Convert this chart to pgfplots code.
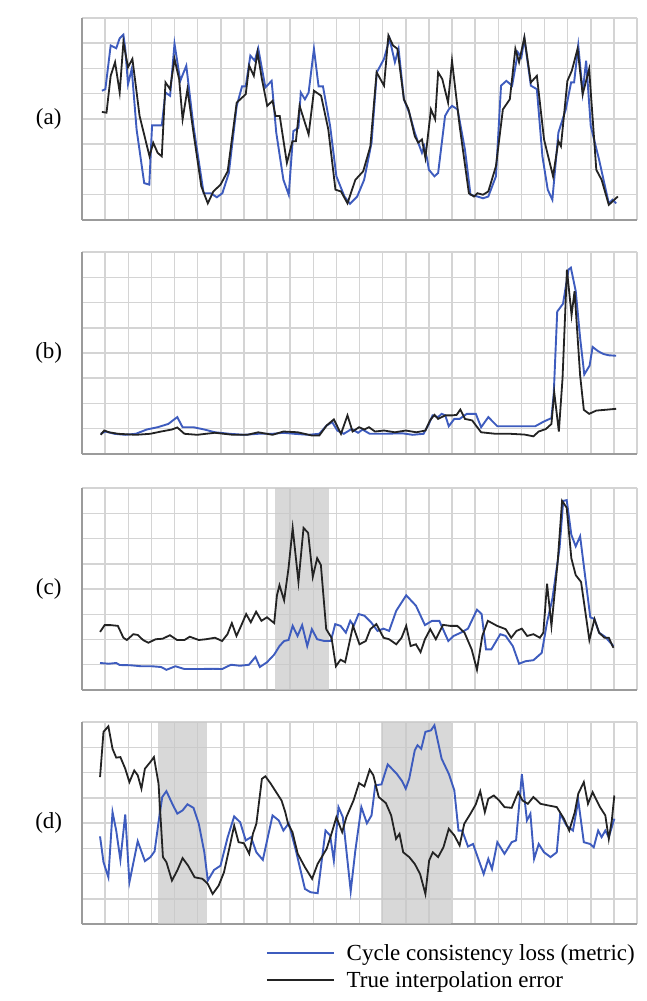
\documentclass[border=0pt]{standalone}
\usepackage{fontspec}
\setmainfont{Liberation Serif}
\usepackage{pgfplots}
\pgfplotsset{compat=1.18}

\definecolor{cblue}{RGB}{62,92,190}
\definecolor{cblack}{RGB}{35,35,35}
\definecolor{cgrid}{RGB}{212,212,212}
\definecolor{cframe}{RGB}{155,155,155}
\definecolor{cshade}{RGB}{200,200,200}

\pgfplotsset{
  panel/.style={
    width=555pt, height=202pt, scale only axis,
    xmin=0, xmax=24, ymin=0, ymax=8,
    xtick={0,...,24}, ytick={0,...,8},
    xticklabels={}, yticklabels={},
    major tick length=0pt,
    grid=major, grid style={draw=cgrid, line width=1.5pt},
    axis x line*=bottom, axis y line*=left,
    axis line style={-, draw=cframe, line width=1.8pt},
    clip mode=individual,
  },
  blueline/.style={cblue, line width=1.9pt},
  blackline/.style={cblack, line width=1.8pt},
  shade/.style={draw=none, fill=cshade, fill opacity=0.7, forget plot},
}
\newcommand{\lbl}{\fontsize{23}{26}\selectfont}

\begin{document}
\begin{tikzpicture}
\path[use as bounding box] (0pt,0pt) rectangle (646pt,-1001pt);

% (a)
\begin{axis}[panel, at={(82pt,-18pt)}, anchor=north west]
\addplot[blueline] coordinates {
(0.86,5.12)(1.01,5.18)(1.24,6.91)(1.48,6.8)(1.63,7.2)(1.79,7.34)(1.87,6.78)(1.99,5.38)(2.15,5.98)(2.36,3.59)(2.69,1.46)(2.91,1.4)(3.03,3.75)(3.45,3.75)(3.61,5.05)(3.81,4.92)(4.0,6.98)(4.25,5.51)(4.51,6.11)(4.82,3.72)(5.26,1.06)(5.57,1.06)(5.83,0.9)(6.07,1.06)(6.35,1.86)(6.69,4.52)(6.92,5.29)(7.08,5.29)(7.28,6.51)(7.47,6.31)(7.62,6.8)(7.93,5.25)(8.2,5.51)(8.4,3.46)(8.71,1.59)(8.94,1.0)(9.14,3.52)(9.36,3.65)(9.46,5.05)(9.64,4.78)(9.8,5.05)(10.03,6.78)(10.23,5.29)(10.42,5.29)(10.73,3.72)(11.0,1.73)(11.35,0.93)(11.59,0.64)(11.9,0.93)(12.2,1.59)(12.52,3.06)(12.75,5.85)(13.06,6.38)(13.3,7.18)(13.53,6.25)(13.69,6.78)(13.92,4.78)(14.15,4.25)(14.39,3.46)(14.54,3.06)(14.7,2.66)(14.8,2.92)(14.93,2.39)(15.0,1.99)(15.24,1.73)(15.4,1.86)(15.7,4.12)(15.86,4.38)(16.0,4.52)(16.24,4.38)(16.56,2.79)(16.8,1.0)(17.1,0.93)(17.34,0.86)(17.57,0.93)(17.9,1.73)(18.12,5.32)(18.35,5.51)(18.6,5.32)(18.85,6.64)(19.0,6.44)(19.13,7.18)(19.41,5.32)(19.67,5.18)(19.91,2.52)(20.14,1.2)(20.34,0.8)(20.6,3.46)(20.92,4.38)(21.15,5.45)(21.28,5.45)(21.46,6.91)(21.65,5.05)(21.8,6.31)(22.0,3.72)(22.36,2.39)(22.78,0.66)(22.94,0.8)(23.1,0.66)
};
\addplot[blackline] coordinates {
(0.86,4.28)(1.06,4.25)(1.24,5.71)(1.43,6.25)(1.63,5.05)(1.79,7.04)(1.99,6.05)(2.18,6.38)(2.49,4.12)(2.92,2.52)(3.08,3.06)(3.27,2.66)(3.45,2.52)(3.61,5.45)(3.81,5.18)(4.0,6.38)(4.2,5.58)(4.35,3.99)(4.56,5.18)(4.82,3.46)(5.16,1.33)(5.44,0.66)(5.68,1.13)(5.99,1.4)(6.3,1.93)(6.69,4.65)(7.08,4.98)(7.23,6.11)(7.43,5.71)(7.59,6.64)(7.78,5.58)(8.01,4.52)(8.24,4.72)(8.37,4.12)(8.55,4.12)(8.86,2.26)(9.1,3.12)(9.25,3.12)(9.41,4.52)(9.8,3.39)(10.03,5.12)(10.34,4.92)(10.65,3.59)(10.96,1.2)(11.2,1.13)(11.48,0.66)(11.82,1.59)(12.16,1.93)(12.47,2.92)(12.74,5.85)(13.06,5.32)(13.25,7.31)(13.45,6.91)(13.64,6.78)(13.92,4.78)(14.12,4.38)(14.39,3.32)(14.54,3.06)(14.7,3.19)(14.85,2.46)(15.09,4.38)(15.27,3.99)(15.4,5.85)(15.58,5.58)(15.83,4.65)(16.0,6.31)(16.33,3.72)(16.73,1.06)(16.95,0.93)(17.1,1.06)(17.34,1.0)(17.57,1.13)(17.9,2.13)(18.2,4.38)(18.5,4.78)(18.74,6.78)(18.9,6.25)(19.13,7.24)(19.41,5.45)(19.67,5.71)(19.98,3.19)(20.37,1.73)(20.6,3.12)(20.71,2.92)(20.99,5.51)(21.18,5.91)(21.43,6.78)(21.65,4.98)(21.93,5.98)(22.24,1.99)(22.47,1.59)(22.78,0.6)(23.17,0.93)
};
\node[font=\lbl] at (rel axis cs:-0.06,0.5) {(a)};
\end{axis}

% (b)
\begin{axis}[panel, at={(82pt,-252pt)}, anchor=north west]
\addplot[blueline] coordinates {
(0.81,0.8)(1.01,0.89)(1.4,0.8)(1.87,0.76)(2.33,0.8)(2.8,0.97)(3.27,1.06)(3.73,1.19)(4.12,1.46)(4.35,1.06)(4.82,1.06)(5.29,0.97)(5.75,0.86)(6.38,0.8)(7.0,0.76)(7.62,0.8)(8.24,0.8)(8.71,0.84)(9.18,0.8)(9.8,0.76)(10.26,0.8)(10.58,1.13)(10.82,1.26)(11.04,0.93)(11.32,0.8)(11.66,0.99)(11.94,0.84)(12.13,0.97)(12.44,0.8)(13.06,0.8)(13.84,0.82)(14.3,0.76)(14.77,0.8)(15.0,1.19)(15.16,1.53)(15.4,1.46)(15.55,1.59)(15.71,1.53)(15.86,1.1)(16.1,1.39)(16.33,1.39)(16.64,1.59)(17.03,1.59)(17.26,1.06)(17.57,1.46)(17.96,1.1)(18.51,1.1)(19.13,1.1)(19.6,1.1)(19.98,1.29)(20.3,1.42)(20.4,2.4)(20.55,5.64)(20.8,5.95)(21.04,7.3)(21.14,7.38)(21.35,6.45)(21.54,4.6)(21.72,3.15)(21.95,3.5)(22.08,4.24)(22.32,4.07)(22.55,3.96)(22.78,3.91)(23.1,3.89)
};
\addplot[blackline] coordinates {
(0.81,0.76)(0.96,0.93)(1.17,0.86)(1.56,0.8)(2.33,0.76)(2.95,0.8)(3.42,0.89)(3.89,0.97)(4.12,1.05)(4.43,0.8)(4.98,0.76)(5.75,0.84)(6.53,0.76)(7.15,0.76)(7.62,0.86)(8.24,0.76)(8.71,0.89)(9.33,0.86)(9.95,0.73)(10.26,0.73)(10.58,1.13)(10.89,1.37)(11.2,0.8)(11.48,1.53)(11.7,0.89)(11.98,1.06)(12.21,0.97)(12.41,1.06)(12.67,0.89)(13.06,0.93)(13.53,0.86)(14.0,0.93)(14.46,0.86)(14.85,0.93)(15.05,1.33)(15.24,1.55)(15.4,1.39)(15.71,1.53)(16.02,1.53)(16.2,1.55)(16.36,1.76)(16.56,1.39)(16.87,1.33)(17.26,0.86)(17.88,0.8)(18.51,0.8)(19.13,0.77)(19.52,0.7)(19.75,0.89)(20.06,0.99)(20.3,1.19)(20.42,2.45)(20.62,0.89)(20.78,3.0)(20.97,7.3)(21.17,5.5)(21.3,6.45)(21.54,3.12)(21.7,1.75)(21.93,1.59)(22.24,1.72)(22.63,1.75)(23.1,1.79)
};
\node[font=\lbl] at (rel axis cs:-0.06,0.5) {(b)};
\end{axis}

% (c)
\begin{axis}[panel, at={(82pt,-488pt)}, anchor=north west]
\addplot[shade] coordinates {(8.36,0)(10.68,0)(10.68,8)(8.36,8)} --cycle;
\addplot[blueline] coordinates {
(0.78,1.07)(1.16,1.04)(1.48,1.07)(1.63,0.99)(2.1,0.98)(2.56,0.94)(3.03,0.94)(3.42,0.91)(3.65,0.8)(4.04,0.94)(4.43,0.83)(5.05,0.83)(5.67,0.84)(6.06,0.83)(6.44,1.0)(6.83,0.96)(7.22,1.0)(7.5,1.31)(7.69,0.91)(8.0,1.1)(8.31,1.4)(8.54,1.74)(8.74,1.94)(8.93,1.98)(9.11,2.54)(9.32,2.14)(9.52,2.57)(9.74,1.74)(9.94,2.41)(10.17,2.01)(10.48,1.94)(10.76,1.94)(10.95,2.61)(11.18,2.54)(11.41,2.27)(11.6,2.74)(11.75,2.54)(11.96,3.01)(12.22,2.94)(12.5,2.68)(12.78,2.34)(13.04,2.43)(13.28,2.34)(13.59,3.14)(14.02,3.75)(14.44,3.34)(14.83,2.57)(15.14,2.74)(15.45,2.74)(15.84,1.94)(16.07,2.14)(16.38,2.27)(16.69,2.43)(17.08,3.18)(17.28,3.01)(17.47,1.61)(17.7,1.61)(18.09,2.21)(18.32,2.14)(18.63,1.74)(18.9,1.04)(19.18,1.14)(19.52,1.18)(19.88,1.47)(20.11,2.68)(20.34,3.61)(20.65,5.62)(20.81,7.49)(20.96,7.52)(21.16,6.15)(21.35,5.69)(21.54,6.09)(21.98,2.88)(22.16,2.81)(22.36,2.27)(22.62,2.11)(22.98,1.74)
};
\addplot[blackline] coordinates {
(0.78,2.3)(0.98,2.57)(1.24,2.57)(1.55,2.54)(1.79,2.07)(1.94,1.98)(2.22,2.21)(2.41,2.18)(2.64,1.98)(2.87,1.87)(3.18,2.01)(3.49,2.03)(3.8,2.17)(4.11,1.98)(4.43,1.98)(4.66,2.11)(5.05,1.98)(5.36,2.01)(5.75,2.07)(6.06,1.94)(6.29,2.21)(6.48,2.65)(6.68,2.14)(6.88,2.54)(7.1,3.01)(7.3,2.68)(7.53,3.1)(7.76,2.74)(8.0,2.88)(8.31,2.65)(8.43,3.75)(8.54,4.15)(8.74,3.55)(8.93,4.82)(9.11,6.42)(9.36,4.28)(9.58,6.42)(9.78,6.22)(9.98,4.48)(10.17,5.22)(10.33,4.95)(10.56,2.41)(10.79,2.07)(10.98,0.94)(11.18,1.2)(11.38,1.1)(11.72,2.54)(12.0,1.81)(12.27,1.94)(12.47,2.41)(12.73,2.61)(13.04,2.07)(13.28,2.01)(13.59,1.81)(13.82,2.07)(14.02,2.54)(14.21,1.74)(14.44,1.81)(14.64,1.5)(14.83,2.01)(15.06,2.41)(15.3,2.01)(15.61,2.58)(15.92,2.54)(16.23,2.54)(16.54,2.27)(16.85,1.61)(17.08,0.8)(17.31,2.14)(17.55,2.74)(17.95,2.54)(18.32,2.41)(18.56,2.07)(18.79,2.34)(19.02,2.43)(19.25,2.14)(19.52,2.21)(19.8,2.07)(19.95,2.27)(20.11,4.21)(20.3,2.54)(20.57,5.08)(20.76,7.49)(20.96,7.22)(21.16,5.22)(21.35,4.55)(21.58,4.28)(21.94,1.98)(22.16,2.81)(22.36,2.27)(22.59,2.07)(22.78,2.07)(22.98,1.67)
};
\node[font=\lbl] at (rel axis cs:-0.06,0.5) {(c)};
\end{axis}

% (d)
\begin{axis}[panel, at={(82pt,-722pt)}, anchor=north west,
  legend style={at={(1,0)}, anchor=north east, yshift=-18pt, draw=none, fill=none,
    font=\lbl, row sep=6pt, column sep=10pt, inner sep=0pt, cells={anchor=west}},
  legend image code/.code={\draw[#1] (0pt,0pt) -- (67pt,0pt);},
]
\addplot[shade] coordinates {(3.3,0)(5.4,0)(5.4,8)(3.3,8)} --cycle;
\addplot[shade] coordinates {(12.92,0)(15.94,0)(15.94,8)(12.92,8)} --cycle;
\addplot[blueline] coordinates {
(0.78,3.47)(0.93,2.45)(1.14,1.85)(1.32,4.43)(1.48,3.7)(1.66,2.54)(1.87,4.34)(2.05,1.65)(2.41,3.28)(2.72,2.49)(2.96,2.65)(3.14,2.88)(3.31,4.03)(3.47,5.03)(3.65,5.26)(3.89,4.79)(4.12,4.37)(4.35,4.5)(4.56,4.74)(4.82,4.6)(5.05,3.97)(5.29,2.84)(5.44,1.72)(5.71,2.14)(5.99,2.31)(6.3,3.44)(6.58,4.26)(6.84,4.03)(7.08,3.31)(7.31,3.44)(7.54,2.84)(7.82,2.54)(8.24,4.3)(8.51,4.1)(8.71,3.7)(8.94,3.99)(9.25,2.91)(9.64,1.39)(9.88,1.26)(10.19,1.22)(10.53,3.7)(10.73,3.51)(10.89,2.51)(11.09,4.63)(11.28,4.23)(11.62,1.3)(11.82,2.91)(12.08,4.63)(12.32,3.99)(12.52,4.3)(12.68,5.49)(12.95,5.53)(13.22,6.32)(13.61,5.95)(13.84,5.66)(14.0,5.36)(14.15,5.75)(14.39,6.88)(14.51,7.08)(14.67,6.94)(14.85,7.61)(15.09,7.67)(15.24,7.87)(15.55,6.55)(15.86,5.95)(16.1,5.29)(16.28,3.7)(16.44,3.7)(16.69,3.07)(16.91,3.17)(17.11,2.65)(17.37,1.98)(17.57,2.58)(17.73,2.18)(17.96,3.24)(18.27,2.78)(18.58,3.24)(18.77,3.31)(19.02,5.93)(19.24,4.1)(19.39,4.37)(19.55,2.58)(19.75,3.17)(19.98,2.84)(20.26,2.65)(20.53,2.84)(20.68,4.37)(20.95,3.9)(21.23,3.7)(21.46,4.89)(21.7,3.24)(21.97,3.17)(22.13,3.04)(22.32,3.7)(22.47,3.44)(22.63,3.7)(22.78,3.44)(23.02,4.17)
};
\addlegendentry{Cycle consistency loss (metric)}
\addplot[blackline] coordinates {
(0.78,5.82)(0.93,7.61)(1.14,7.83)(1.32,6.94)(1.48,6.59)(1.66,6.61)(1.87,6.15)(2.05,5.62)(2.26,6.08)(2.41,5.89)(2.57,5.36)(2.72,6.15)(2.96,6.42)(3.11,6.61)(3.31,5.56)(3.5,2.65)(3.65,2.45)(3.89,1.72)(4.12,2.12)(4.35,2.61)(4.59,2.31)(4.87,1.85)(5.21,1.79)(5.44,1.59)(5.65,1.19)(5.91,1.52)(6.14,2.05)(6.38,3.04)(6.58,3.9)(6.77,3.24)(7.0,3.2)(7.23,2.78)(7.39,3.57)(7.54,3.97)(7.78,5.75)(7.93,5.85)(8.16,5.56)(8.44,5.16)(8.63,4.89)(8.79,4.43)(8.91,3.97)(9.1,3.64)(9.33,2.78)(9.64,2.25)(9.95,1.79)(10.19,2.38)(10.58,2.98)(10.81,3.64)(11.0,4.23)(11.25,3.64)(11.43,4.23)(11.74,4.89)(11.98,5.58)(12.21,5.45)(12.44,6.11)(12.6,5.89)(12.83,5.03)(13.14,4.79)(13.37,4.3)(13.58,3.37)(13.73,3.57)(13.89,2.84)(14.15,2.65)(14.39,2.38)(14.62,1.98)(14.85,1.19)(15.01,2.51)(15.17,2.84)(15.4,2.65)(15.63,3.04)(15.86,3.77)(16.1,3.51)(16.33,3.11)(16.53,3.97)(16.8,4.37)(17.03,4.74)(17.22,5.26)(17.42,4.43)(17.57,4.96)(17.81,5.09)(18.04,4.89)(18.27,4.63)(18.58,4.6)(18.86,5.22)(19.05,4.89)(19.28,4.76)(19.52,5.03)(19.83,4.76)(20.14,4.7)(20.53,4.63)(20.84,4.17)(21.07,3.7)(21.31,4.43)(21.46,5.16)(21.7,5.62)(21.88,4.76)(22.08,5.22)(22.4,4.63)(22.63,4.3)(22.78,3.37)(22.91,4.1)(23.02,5.09)
};
\addlegendentry{True interpolation error}
\node[font=\lbl] at (rel axis cs:-0.06,0.5) {(d)};
\end{axis}
\end{tikzpicture}
\end{document}
